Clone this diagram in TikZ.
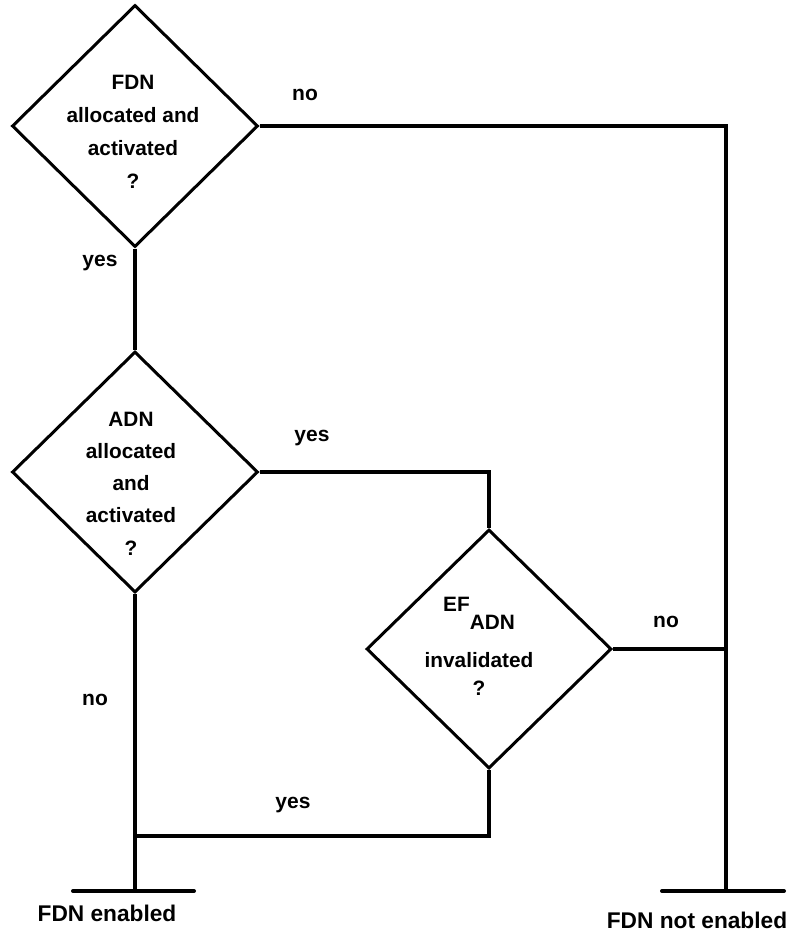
\documentclass[tikz,border=0pt]{standalone}
\usepackage{fontspec}
\setmainfont{Liberation Sans}
\usetikzlibrary{shapes.geometric}

\begin{document}
\begin{tikzpicture}[x=1pt, y=-1pt,
    decision/.style={draw, shape=diamond, line width=3pt, inner sep=0pt},
    qtext/.style={align=center, font=\bfseries\fontsize{20.8}{33}\selectfont},
    lbl/.style={font=\bfseries\fontsize{21}{25}\selectfont},
    endtext/.style={font=\bfseries\fontsize{22.7}{27}\selectfont},
    flow/.style={line width=3.5pt},
    bar/.style={line width=4pt, line cap=round}]
    \useasboundingbox (0,0) rectangle (795,934);
    % --- decisions ---
    \node[decision, minimum width=246pt, minimum height=242pt] (fdn) at (135,126) {};
    \node[qtext] (fdnq) at (133,131.5) {FDN\\allocated and\\activated\\?};
    \node[decision, minimum width=246pt, minimum height=241pt] (adn) at (135,472) {};
    \node[qtext, font=\bfseries\fontsize{20.8}{32.25}\selectfont] (adnq) at (131,483.5)
      {ADN\\allocated\\and\\activated\\?};
    \node[decision, minimum width=245pt, minimum height=239pt] (efadn) at (489,649) {};
    \node[qtext, font=\bfseries\fontsize{20.8}{28}\selectfont] (efadnq) at (479,646)
      {EF\smash{\lower18pt\hbox{ADN}}\\[28pt]invalidated\\?};
    % --- end points ---
    \coordinate (enabled) at (135,891);
    \coordinate (notenabled) at (726,891);
    \coordinate (join) at (135,836);
    \draw[bar] (73,891) -- (194,891);
    \draw[bar] (662,891) -- (784,891);
    \node[endtext] (enabledt) at (107,913) {FDN enabled};
    \node[endtext] (notenabledt) at (697,920) {FDN not enabled};
    % --- connectors ---
    \draw[flow] (fdn.east) -| (notenabled);
    \draw[flow] (fdn.south) -- (adn.north);
    \draw[flow] (adn.east) -| (efadn.north);
    \draw[flow] (efadn.east) -- (efadn.east -| notenabled);
    \draw[flow] (efadn.south) |- (join);
    \draw[flow] (adn.south) -- (enabled);
    % --- branch labels ---
    \node[lbl] (fdnno) at (305,95) {no};
    \node[lbl] (fdnyes) at (100,263) {yes};
    \node[lbl] (adnyes) at (312,438) {yes};
    \node[lbl] (adnno) at (95,700) {no};
    \node[lbl] (efno) at (666,622) {no};
    \node[lbl] (efyes) at (293,805) {yes};
\end{tikzpicture}
\end{document}
